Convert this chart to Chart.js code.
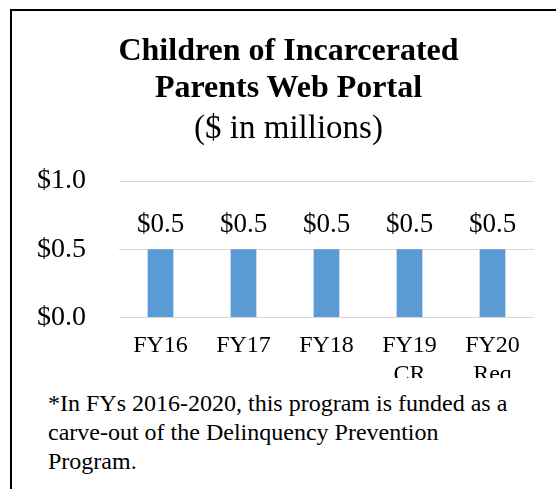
<!DOCTYPE html>
<html>
<head>
<meta charset="utf-8">
<script src="https://cdn.jsdelivr.net/npm/chart.js@4"></script>
<style>
  html, body { margin: 0; padding: 0; background: #fff; width: 556px; height: 489px; overflow: hidden; }
  #frame { position: absolute; left: 10px; top: 9px; width: 600px; height: 600px; border-left: 2px solid #000; border-top: 2px solid #000; }
  #clip { position: absolute; left: 0; top: 0; width: 556px; height: 378px; overflow: hidden; }
  #c { position: absolute; left: 0; top: 0; }
  .serif { font-family: 'Liberation Serif', 'Times New Roman', serif; color: #000; white-space: nowrap; }
  #title { position: absolute; left: 0; top: 31px; width: 577px; text-align: center; font-size: 32px; font-weight: bold; line-height: 37px; }
  #subtitle { position: absolute; left: 0; top: 109px; width: 577px; text-align: center; font-size: 33px; line-height: 37px; }
  #note { position: absolute; left: 48px; top: 389px; font-size: 24px; line-height: 29px; }
</style>
</head>
<body>
<div id="frame"></div>
<div id="clip"><canvas id="c" width="556" height="415"></canvas></div>
<div id="title" class="serif"></div>
<div id="subtitle" class="serif"></div>
<div id="note" class="serif"></div>
<script>
const categories = [['FY16'], ['FY17'], ['FY18'], ['FY19', 'CR'], ['FY20', 'Req']];
const values = [0.5, 0.5, 0.5, 0.5, 0.5];
const yTicks = [0, 0.5, 1.0];
const titleLines = ['Children of Incarcerated', 'Parents Web Portal'];
const subtitleText = '($ in millions)';
const noteLines = ['*In FYs 2016-2020, this program is funded as a', 'carve-out of the Delinquency Prevention', 'Program.'];

const SERIF = "'Liberation Serif', 'Times New Roman', serif";

function fillLines(id, lines) {
  const el = document.getElementById(id);
  lines.forEach((t, i) => {
    if (i) el.appendChild(document.createElement('br'));
    el.appendChild(document.createTextNode(t));
  });
}
fillLines('title', titleLines);
fillLines('subtitle', [subtitleText]);
fillLines('note', noteLines);

const dataLabels = {
  id: 'dataLabels',
  afterDatasetsDraw(chart) {
    const ctx = chart.ctx;
    const meta = chart.getDatasetMeta(0);
    ctx.save();
    ctx.font = '27px ' + SERIF;
    ctx.fillStyle = '#000';
    ctx.textAlign = 'center';
    ctx.textBaseline = 'alphabetic';
    meta.data.forEach((bar, i) => {
      ctx.fillText('$' + values[i].toFixed(1), bar.x, bar.y - 17.5);
    });
    ctx.restore();
  }
};

new Chart(document.getElementById('c'), {
  type: 'bar',
  data: {
    labels: categories,
    datasets: [{
      data: values,
      backgroundColor: '#5B9BD5',
      borderWidth: 0,
      categoryPercentage: 1,
      barPercentage: 0.31
    }]
  },
  options: {
    responsive: false,
    animation: false,
    events: [],
    layout: { padding: { left: 4, right: 22, top: 181, bottom: 12 } },
    plugins: {
      legend: { display: false },
      tooltip: { enabled: false },
      title: { display: false },
      subtitle: { display: false }
    },
    scales: {
      x: {
        grid: { display: false, drawTicks: false },
        border: { display: false },
        ticks: {
          color: '#000',
          font: { family: SERIF, size: 24, lineHeight: 1.2 },
          padding: 14,
          maxRotation: 0,
          autoSkip: false
        }
      },
      y: {
        min: 0,
        max: 1,
        afterBuildTicks(scale) { scale.ticks = yTicks.map(v => ({ value: v })); },
        grid: { color: '#D9D9D9', lineWidth: 1, drawTicks: false },
        border: { display: false },
        ticks: {
          color: '#000',
          font: { family: SERIF, size: 28 },
          padding: 33,
          callback: v => '$' + Number(v).toFixed(1)
        }
      }
    }
  },
  plugins: [dataLabels]
});
</script>
</body>
</html>
